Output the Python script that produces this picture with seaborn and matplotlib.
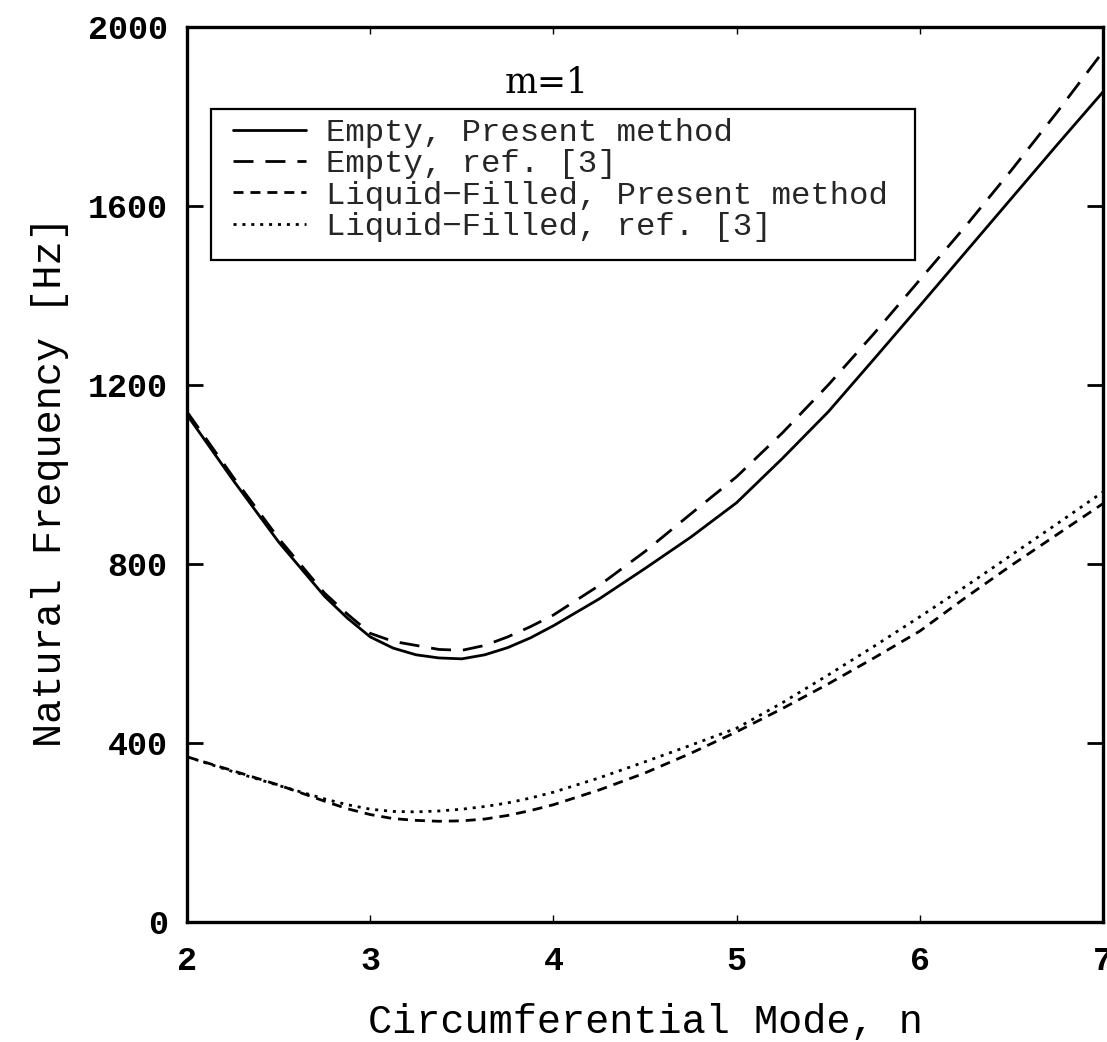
import matplotlib
matplotlib.use("Agg")
import matplotlib.pyplot as plt
from matplotlib.patches import Rectangle
import seaborn as sns
import pandas as pd

# circumferential mode numbers (finer spacing around the minimum)
n_modes = [2.0, 2.25, 2.5, 2.75, 2.875, 3.0, 3.125, 3.25, 3.375, 3.5, 3.625,
           3.75, 3.875, 4.0, 4.25, 4.5, 4.75, 5.0, 5.25, 5.5, 5.75, 6.0,
           6.25, 6.5, 6.75, 7.0]

# natural frequencies [Hz]
empty_present = [1133, 988, 849, 728, 679, 637, 612, 597, 590, 588, 597,
                 613, 635, 662, 722, 790, 860, 937, 1036, 1140, 1258, 1377,
                 1497, 1617, 1737, 1855]
empty_ref3 = [1140, 995, 857, 735, 688, 645, 627, 618, 609, 607, 618,
              637, 660, 686, 752, 828, 912, 995, 1093, 1200, 1315, 1435,
              1555, 1680, 1810, 1945]
liquid_present = [369, 338, 306, 270, 253, 240, 231, 227, 225, 226, 230,
                  238, 249, 262, 295, 333, 377, 425, 477, 532, 590, 650,
                  725, 797, 866, 935]
liquid_ref3 = [369, 336, 305, 275, 262, 252, 247, 246, 248, 252, 258,
               266, 277, 290, 322, 358, 395, 433, 490, 552, 616, 682,
               750, 820, 890, 961]

labels = ["Empty, Present method", "Empty, ref. [3]",
          "Liquid\u2212Filled, Present method", "Liquid\u2212Filled, ref. [3]"]
x_ticks = [2, 3, 4, 5, 6, 7]
y_ticks = [0, 400, 800, 1200, 1600, 2000]

sns.set_theme(style="ticks")
plt.rcParams["font.family"] = ["Liberation Mono", "DejaVu Sans Mono"]

fig = plt.figure(figsize=(11.07, 10.42), dpi=100)
ax = fig.add_axes([0.169, 0.1152, 0.8274, 0.8589])

series = [
    (empty_present, dict(linestyle="-")),
    (empty_ref3, dict(linestyle=(0, (7.2, 4.3)))),
    (liquid_present, dict(linestyle=(0, (3.6, 2.5)))),
    (liquid_ref3, dict(linestyle=(0, (1.1, 2.1)))),
]
for (vals, style), lab in zip(series, labels):
    df = pd.DataFrame({"n": n_modes, "f": vals})
    sns.lineplot(data=df, x="n", y="f", ax=ax, color="black", label=lab,
                 linewidth=2.0, **style)

ax.set_xlim(2, 7)
ax.set_ylim(0, 2000)
ax.set_xticks(x_ticks)
ax.set_yticks(y_ticks)
ax.set_xticklabels([str(t) for t in x_ticks])
ax.set_yticklabels([str(t) for t in y_ticks])

for side in ["left", "right", "top", "bottom"]:
    ax.spines[side].set_visible(True)
    ax.spines[side].set_linewidth(2.4)
    ax.spines[side].set_color("black")

ax.tick_params(axis="y", which="major", direction="in", length=11.5, width=2.0,
               left=True, right=True, labelsize=24, pad=14, colors="black")
ax.tick_params(axis="x", which="major", direction="in", length=5, width=1.0,
               bottom=True, top=True, labelsize=24, pad=17, colors="black")
for lbl in ax.get_xticklabels() + ax.get_yticklabels():
    lbl.set_fontweight("bold")

ax.set_xlabel("Circumferential Mode, n", fontsize=29, color="black")
ax.set_ylabel("Natural Frequency [Hz]", fontsize=29, color="black")
ax.xaxis.set_label_coords(0.5, -0.090)
ax.yaxis.set_label_coords(-0.1288, 0.4916)

ax.text(0.393, 0.9374, "m=1", transform=ax.transAxes, ha="center",
        va="center", fontsize=25, family="DejaVu Serif", color="black")

# legend frame drawn as its own box, entries placed inside it
ax.add_patch(Rectangle((0.0262, 0.7397), 0.7686, 0.1687,
                       transform=ax.transAxes, fill=True, facecolor="white",
                       edgecolor="black", linewidth=1.6, zorder=4))
leg = ax.legend(loc="upper left", bbox_to_anchor=(0.0502, 0.8983),
                borderaxespad=0, borderpad=0, fontsize=23.3, frameon=False,
                handlelength=2.25, handletextpad=0.62, labelspacing=0.04)
leg.set_zorder(5)

fig.savefig("out.png", dpi=100, facecolor="white")
